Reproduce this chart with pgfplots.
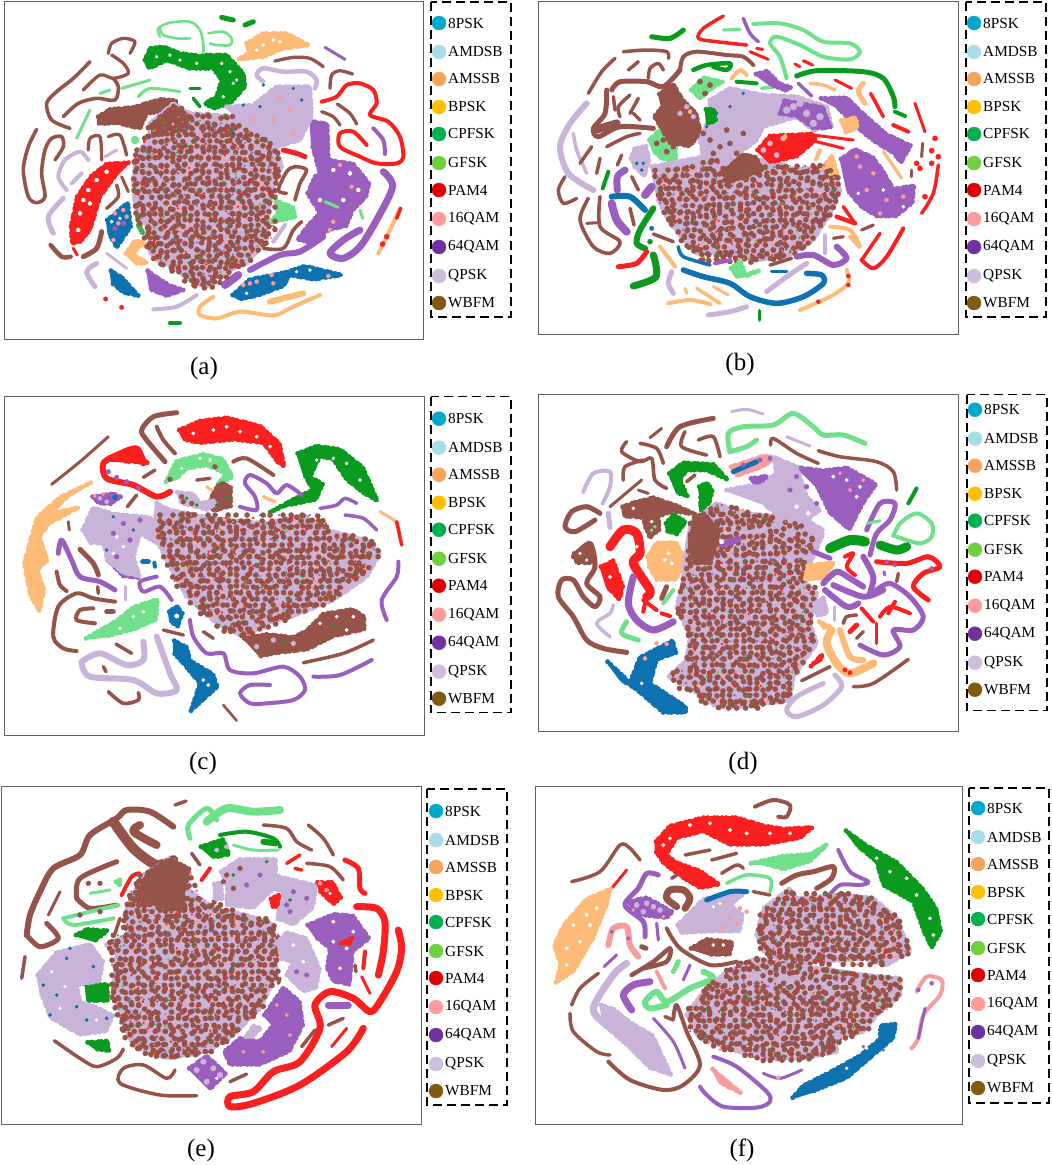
\documentclass[border=0pt]{standalone}
\usepackage{fontspec}
\setmainfont{Liberation Serif}
\usepackage{pgfplots}
\pgfplotsset{compat=1.18}

\definecolor{bl}{HTML}{0F72B0}
\definecolor{gr}{HTML}{0A9B1E}
\definecolor{lg}{HTML}{70E08A}
\definecolor{ora}{HTML}{FDBB77}
\definecolor{rd}{HTML}{FB2020}
\definecolor{pu}{HTML}{9A5FBE}
\definecolor{li}{HTML}{C9B3D8}
\definecolor{bn}{HTML}{95534A}
\definecolor{pk}{HTML}{F79C9C}
\definecolor{k1}{HTML}{00A9CC}\definecolor{k2}{HTML}{A8DCE8}\definecolor{k3}{HTML}{F8A25A}
\definecolor{k4}{HTML}{FFC000}\definecolor{k5}{HTML}{00B050}\definecolor{k6}{HTML}{70D040}
\definecolor{k7}{HTML}{E00000}\definecolor{k8}{HTML}{FF9B9B}\definecolor{k9}{HTML}{7030A0}
\definecolor{k10}{HTML}{CDBFDC}\definecolor{k11}{HTML}{7F5A10}

% axes use the 3x zoom pixel coordinates, y downwards
\pgfplotsset{
  base/.style n args={8}{
    at={(#1pt,-#2pt)}, anchor=north west, scale only axis,
    width=#3pt, height=#4pt,
    xmin=#5, xmax=#6, ymin=#7, ymax=#8, y dir=reverse,
    xtick=\empty, ytick=\empty, clip=false},
  panel/.style={axis line style={draw=black!62, line width=1pt}},
  lgd/.style={axis line style={draw=black, line width=1.3pt, dash pattern=on 9pt off 5pt}}
}
\newcommand{\lnn}[3][3.3]{\addplot[no markers, smooth, color=#2, line width=#1pt, line cap=round, line join=round] coordinates {#3};}
\newcommand{\dotsline}[5][]{\addplot[no markers, color=#2, line width=#3pt, line cap=round, line join=round, dash pattern=#4, #1] coordinates {#5};}
% filled cluster with a lumpy edge of dots along its outline
\newcommand{\blob}[2]{%
  \addplot[draw=#1, fill=#1, line width=3pt, line join=round] coordinates {#2} -- cycle;
  \dotsline{#1}{5}{on .01pt off 4pt on .01pt off 6.5pt on .01pt off 3pt on .01pt off 5pt}{#2}
}
\newcommand{\spk}[3]{\addplot[only marks, color=#1, mark=*, mark size=#2pt, mark options={solid, fill=#1}] coordinates {#3};}
\newcommand{\mix}[2]{%
  \dotsline[yshift=-3pt]{pk}{3.6}{on .01pt off 13pt on .01pt off 22pt on .01pt off 17pt}{#1}
  \dotsline[xshift=3pt]{pk}{3.2}{on .01pt off 25pt on .01pt off 12pt}{#2}
  \dotsline[yshift=3pt]{pu}{2.6}{on .01pt off 19pt on .01pt off 31pt}{#1}
  \dotsline[xshift=-3pt]{pu}{2.4}{on .01pt off 23pt on .01pt off 37pt}{#2}
  \dotsline{ora}{2.6}{on .01pt off 23pt on .01pt off 15pt on .01pt off 33pt}{#1}
  \dotsline[yshift=-3pt]{bn}{5.6}{on .01pt off 9pt on .01pt off 12pt on .01pt off 7pt on .01pt off 14pt on .01pt off 10pt on .01pt off 8pt}{#1}
  \dotsline[yshift=3pt]{bn}{5.6}{on .01pt off 13pt on .01pt off 8pt on .01pt off 11pt on .01pt off 16pt on .01pt off 7pt}{#1}
  \dotsline[xshift=-3pt]{bn}{5.6}{on .01pt off 11pt on .01pt off 7.5pt on .01pt off 15pt on .01pt off 9pt on .01pt off 13pt}{#2}
  \dotsline[xshift=3pt]{bn}{5.6}{on .01pt off 8.5pt on .01pt off 14pt on .01pt off 10pt on .01pt off 6.5pt on .01pt off 17pt}{#2}
  \dotsline{rd}{2.6}{on .01pt off 27pt on .01pt off 39pt}{#1}
  \dotsline[xshift=2pt]{rd}{2.4}{on .01pt off 35pt on .01pt off 23pt}{#2}
  \dotsline[yshift=2pt]{gr!70!lg}{2}{on .01pt off 31pt on .01pt off 43pt}{#1}
  \dotsline{gr!70!lg}{2}{on .01pt off 41pt on .01pt off 27pt}{#2}
  \dotsline[xshift=-1pt]{ora!70!rd}{1.8}{on .01pt off 47pt on .01pt off 29pt}{#2}
}
\newcommand{\lgi}[3]{%
  \addplot[only marks, color=#1, mark=*, mark size=7pt, mark options={solid, fill=#1}] coordinates {(439,#2)};
  \node[anchor=west, inner sep=0pt, font=\fontsize{15.3}{17}\selectfont] at (axis cs:448,#2) {#3};
}
\newcommand{\legendax}[7]{%
  \begin{axis}[base={#1}{#2}{80}{#3}{#4}{#5}{#6}{#7}, lgd]
  \lgi{k1}{23}{8PSK}
  \lgi{k2}{52}{AMDSB}
  \lgi{k3}{79}{AMSSB}
  \lgi{k4}{107}{BPSK}
  \lgi{k5}{134}{CPFSK}
  \lgi{k6}{163}{GFSK}
  \lgi{k7}{190}{PAM4}
  \lgi{k8}{219}{16QAM}
  \lgi{k9}{247}{64QAM}
  \lgi{k10}{276}{QPSK}
  \lgi{k11}{303}{WBFM}
  \end{axis}
}
\newcommand{\capt}[3]{\node[font=\fontsize{25}{27}\selectfont] at (#1pt,-#2pt) {#3};}

\begin{document}
\begin{tikzpicture}
\path[use as bounding box] (0,0) rectangle (1052pt,-1165pt);

% ---------- (a)
\begin{axis}[base={4.3}{1.7}{419}{337.3}{13}{1270}{5}{1017}, panel]
\lnn[2.6]{lg}{(480,110)(475,85)(510,68)(570,65)(600,90)(610,130)(610,165)}
\lnn[2.6]{lg}{(480,85)(490,105)(530,115)(570,115)}
\lnn[2.6]{lg}{(625,100)(670,95)(695,115)(690,135)(650,135)(630,130)}
\lnn[5]{gr}{(665,52)(700,60)}\lnn[5]{gr}{(735,75)(760,65)}
\blob{ora}{(740,130)(790,100)(860,100)(925,135)(850,145)(790,170)(715,178)(745,160)}
\spk{white}{1.6}{(790,135)(820,120)(770,150)(840,125)}
\lnn[3]{pu}{(975,142)(1035,178)}
\lnn{bn}{(825,183)(880,172)(930,175)(970,200)}
\lnn[4.5]{li}{(790,245)(770,225)(790,205)(850,215)(920,215)(950,240)(945,265)}
\lnn{bn}{(990,265)(995,225)(1020,212)(1058,222)}
\lnn[4]{rd}{(965,305)(1010,290)(1040,255)(1080,250)(1120,270)(1130,310)(1110,345)(1165,365)(1200,410)(1210,470)(1190,490)(1130,490)(1080,470)(1020,440)(1020,400)(1060,395)(1100,435)}
\lnn{bn}{(965,335)(1000,350)(1020,375)}\lnn{bn}{(1012,312)(1050,340)(1070,372)}
\lnn[4]{pu}{(1120,385)(1150,420)(1155,462)}
\blob{gr}{(620,165)(680,165)(730,220)(735,260)(690,310)(640,325)(615,310)(650,290)(665,240)(640,205)}
\blob{gr}{(435,180)(450,145)(490,140)(540,160)(620,170)(630,205)(570,205)(500,180)(470,195)(445,205)}
\lnn[3.5]{gr}{(570,265)(600,265)}\lnn[3.5]{gr}{(580,295)(600,320)}
\spk{white}{1.5}{(540,180)(690,215)(700,250)(670,290)(470,170)(630,245)(590,190)(710,240)(665,190)(510,165)}
\lnn{bn}{(325,160)(335,130)(370,115)(405,125)(390,160)}
\lnn{bn}{(335,165)(370,190)(385,220)(340,235)(300,225)(250,270)}
\lnn[3.6]{bn}{(270,185)(220,235)(170,275)(140,310)(155,360)(210,385)}
\lnn[3.6]{bn}{(190,350)(235,310)(290,295)(345,300)(355,260)(340,235)}
\lnn[3.6]{bn}{(110,388)(85,440)(70,510)(85,590)(110,608)(135,590)(125,520)(135,450)(155,415)(185,410)(190,440)(165,480)}
\lnn[3]{lg}{(365,265)(450,240)}\lnn[3]{lg}{(300,280)(330,270)}\lnn[3]{lg}{(415,290)(450,265)(540,275)}\lnn[3]{lg}{(230,415)(270,330)}
\lnn{bn}{(265,450)(270,415)(300,410)(305,480)}\lnn{bn}{(325,410)(360,405)(380,465)}
\lnn[3.2]{li}{(315,470)(350,450)}
\lnn[4]{li}{(200,570)(175,530)(195,480)(240,455)(265,480)}\lnn[4]{li}{(215,550)(245,520)}
\blob{bn}{(295,350)(330,328)(400,322)(480,298)(530,302)(520,330)(440,340)(420,385)(390,378)(350,368)(295,372)}
\spk{lg}{4}{(405,420)}
\blob{rd}{(385,488)(320,492)(272,530)(232,590)(213,680)(217,730)(240,725)(270,690)(300,590)(345,528)}
\spk{white}{2}{(320,515)(265,570)(240,640)(235,690)(270,610)(290,540)(250,600)}
\lnn[3]{bn}{(365,530)(385,575)}\lnn[3.4]{bn}{(320,625)(355,590)(350,555)}
\lnn[5]{li}{(190,595)(145,650)(160,700)}
\lnn[4.5]{bn}{(152,735)(185,770)(212,770)}\lnn[5]{bn}{(250,770)(290,745)(305,695)}\lnn[3]{rd}{(220,745)(232,765)}
\blob{bl}{(322,660)(383,608)(392,680)(350,742)(327,700)}
\spk{pk}{2}{(345,640)(370,630)(355,670)(340,720)(380,650)}\spk{pu}{2.5}{(370,670)(345,685)}\spk{white}{1.6}{(335,665)(360,655)}
\lnn[5]{gr!60!lg}{(415,675)(428,698)}
\blob{ora}{(378,760)(405,722)(442,732)(415,740)(400,765)(442,788)(410,792)}
\lnn[2.8]{li}{(380,805)(320,760)}\lnn[5]{li}{(290,790)(260,815)(285,860)}
\blob{bl}{(333,812)(365,832)(415,887)(370,877)(338,850)}
\blob{pu}{(443,812)(470,832)(510,857)(550,870)(500,887)(452,868)}
\lnn[4]{li}{(460,928)(530,920)(590,885)}
\lnn[4]{ora}{(640,890)(600,920)(600,945)(650,955)(720,935)(800,945)(830,945)(880,920)(960,885)}\lnn[6]{ora}{(810,905)(910,880)}
\lnn[4]{gr}{(510,968)(540,968)}\spk{rd}{2.2}{(317,897)(365,922)}
\blob{bl}{(698,885)(750,838)(830,823)(870,813)(915,798)(1025,825)(940,838)(870,825)(850,858)(770,887)(720,897)}
\spk{pk}{2}{(730,855)(770,845)(820,850)(815,825)(750,850)(985,828)}\spk{white}{1.5}{(740,880)(930,810)(890,815)}
\lnn[8]{pu}{(675,855)(715,825)}
\blob{pu}{(933,363)(982,372)(985,480)(1060,492)(1107,550)(1098,590)(1058,630)(1038,678)(990,688)(930,727)(893,718)(930,670)(960,640)(923,580)(945,530)(960,520)(938,440)}
\spk{white}{2}{(1000,510)(1050,520)(1075,570)(960,600)(1030,600)}\spk{pk}{2}{(1020,495)(1000,665)(1055,560)(990,690)}
\lnn[6]{pu}{(750,810)(840,765)(900,755)(970,710)}
\lnn[7]{pu}{(1150,515)(1178,560)(1130,660)(1080,740)(1030,775)(990,760)(1030,720)(1080,690)}
\lnn[4]{ora}{(1135,760)(1170,690)(1200,625)}\lnn[3.5]{rd}{(1190,655)(1202,625)}\spk{rd}{2.5}{(1160,710)(1148,732)}
\lnn[3.6]{bn}{(860,580)(835,570)(860,515)(885,500)(920,510)(900,550)(885,600)}
\blob{lg}{(828,602)(878,622)(887,650)(813,668)(832,640)}
\lnn[3]{lg}{(975,605)(1015,622)}\lnn[3]{lg}{(1080,630)(1088,655)}
\lnn[3.6]{bn}{(790,745)(850,745)(880,690)(905,665)}\lnn[4]{li}{(820,725)(855,675)}
\blob{li}{(450,370)(520,310)(570,340)(640,345)(700,350)(760,400)(830,440)(845,500)(820,560)(805,640)(800,720)(740,790)(660,820)(620,860)(570,840)(500,790)(450,760)(450,690)(405,620)(400,540)(410,460)(445,420)}
\blob{li}{(680,320)(760,315)(830,260)(930,260)(935,350)(900,420)(830,440)(760,400)}
\spk{bl}{1.5}{(790,255)(730,315)(700,400)(880,265)(780,320)(905,300)}
\spk{pk}{2}{(840,290)(870,330)(820,360)(880,400)(760,360)}
\lnn[5]{rd}{(850,450)(890,460)(915,470)}
\blob{bn}{(455,375)(520,318)(562,345)(558,388)(500,398)(460,408)}
\mix{(480,360)(570,368)(740,400)(445,392)(430,436)(800,428)(835,468)(410,462)(400,506)(840,500)(830,540)(400,546)(405,584)(815,576)(805,612)(405,620)(415,654)(800,648)(800,684)(440,690)(450,722)(800,716)(760,756)(455,762)(500,796)(720,790)(650,828)(550,834)(600,856)(640,852)}{(420,450)(420,640)(456,760)(456,400)(492,360)(492,790)(528,815)(528,320)(564,345)(564,840)(600,860)(600,345)(636,345)(636,860)(672,830)(672,345)(708,355)(708,800)(744,780)(744,395)(780,420)(780,740)(816,700)(816,440)}
\end{axis}
\legendax{431}{2}{315}{431}{511}{2}{317}
\capt{204}{368}{(a)}

% ---------- (b)
\begin{axis}[base={538.7}{1.7}{419.6}{332.3}{26}{1285}{5}{1002}, panel]
\lnn[5]{gr}{(365,110)(420,115)(460,90)}
\lnn[3.5]{rd}{(580,48)(520,85)(505,115)(560,125)(650,135)}
\lnn[3]{lg}{(580,90)(630,88)}\lnn[3.5]{pu}{(640,55)(660,100)(685,125)}
\lnn[4]{lg}{(670,72)(750,70)(820,90)(880,125)(960,130)(990,155)(960,178)(880,170)(810,135)(740,110)(720,130)(750,170)(770,235)}
\lnn[3]{rd}{(660,155)(715,178)}\lnn[3]{rd}{(680,145)(698,148)}\lnn[3]{rd}{(795,192)(810,200)}\lnn[3]{rd}{(820,182)(848,195)}
\lnn[5]{gr}{(800,228)(860,212)(1000,215)(1060,235)(1090,290)(1095,320)}\lnn[4]{gr}{(1095,335)(1125,348)}
\lnn[3.5]{bn}{(175,280)(215,215)(255,175)}\lnn[3.5]{bn}{(280,155)(350,150)(410,155)(415,175)}\lnn[3.5]{bn}{(295,210)(325,185)}\lnn[3.5]{bn}{(355,235)(360,205)(385,190)(400,210)}
\lnn[4]{bn}{(450,210)(460,170)(500,155)(590,165)(640,170)(670,195)}
\lnn[5]{bn}{(245,270)(270,245)(350,245)(400,260)(450,210)}
\lnn[5]{bn}{(230,270)(225,340)(190,385)(205,410)(270,380)(370,385)}
\lnn[8]{bn}{(195,390)(260,370)}
\lnn[3.5]{bn}{(250,290)(255,330)}\lnn[3.5]{bn}{(270,350)(265,320)(300,285)}\lnn[3.5]{bn}{(300,340)(325,295)}\lnn[3.5]{bn}{(330,360)(310,340)}
\blob{lg}{(358,420)(385,393)(437,420)(437,478)(400,478)(372,455)}
\blob{lg}{(483,270)(520,233)(577,245)(540,268)(510,297)}
\spk{bn}{2.6}{(400,420)(430,440)(380,430)(510,245)(540,255)(525,280)(410,455)}
\blob{bn}{(388,282)(430,253)(458,300)(498,340)(512,400)(478,438)(420,428)(392,380)(373,350)(397,320)}
\spk{li}{2.4}{(470,320)(490,350)(450,340)}\spk{ora}{2}{(480,335)}
\lnn[4.5]{gr}{(490,210)(530,195)(600,190)(590,210)(550,200)}
\lnn[4]{ora}{(605,235)(630,210)(650,225)}\lnn[4]{gr}{(620,245)(680,250)}\lnn[3.5]{lg}{(695,265)(735,260)}
\blob{pu}{(678,222)(710,213)(750,252)(782,262)(770,272)(720,253)}
\lnn[3.5]{pu}{(805,250)(845,288)}\lnn[3.5]{ora}{(840,250)(880,255)(915,270)}\lnn[3]{rd}{(915,240)(965,265)}\lnn[5]{ora}{(1000,250)(985,275)(1005,310)}
\lnn[3.5]{rd}{(1022,280)(1060,350)}\lnn[3]{rd}{(1155,310)(1185,395)}
\blob{li}{(540,300)(600,265)(700,285)(800,290)(890,320)(905,380)(850,390)(800,350)(700,380)(680,420)(600,480)(520,470)(510,420)(530,370)}
\blob{pu}{(763,302)(878,322)(902,383)(850,383)(800,348)(748,340)}
\spk{li}{3.5}{(790,320)(830,340)(870,350)(770,330)(850,370)(810,310)}
\spk{bl}{1.5}{(600,320)(560,340)(640,280)(530,380)}
\blob{gr}{(528,328)(552,328)(557,362)(533,372)}
\spk{bn}{2.6}{(540,420)(570,440)(600,430)(550,460)(620,460)(640,400)(590,390)(520,400)}
\blob{pu}{(873,295)(950,293)(998,340)(1068,402)(1142,437)(1113,487)(1090,458)(1040,428)(1000,398)(920,320)}
\blob{ora}{(933,362)(977,353)(982,383)(947,397)}
\blob{pu}{(933,477)(975,448)(1028,472)(1058,512)(1090,567)(1152,557)(1147,608)(1098,648)(1040,648)(992,618)(953,570)}
\spk{pk}{2}{(990,500)(1030,520)(1010,570)(1070,600)(1120,590)(980,470)(1050,640)}\spk{white}{1.6}{(1060,570)(985,580)(1120,620)}
\lnn[3.2]{ora}{(1060,455)(1085,490)(1115,535)}
\blob{li}{(365,500)(520,470)(610,480)(720,480)(800,510)(880,500)(905,470)(930,570)(900,640)(850,720)(770,770)(680,780)(590,760)(500,760)(420,670)(385,600)}
\blob{ora}{(883,500)(905,468)(922,520)(900,537)}
\blob{rd}{(683,450)(720,408)(847,402)(857,420)(800,468)(720,487)}
\spk{li}{2.6}{(720,430)(760,415)(740,465)(700,450)}\spk{ora}{2.2}{(765,410)}
\mix{(375,520)(890,505)(915,540)(385,556)(385,592)(925,576)(910,612)(410,628)(420,664)(885,648)(860,684)(440,700)(480,736)(835,720)(790,756)(500,772)(680,778)}{(400,540)(400,620)(440,680)(440,510)(480,500)(480,740)(520,765)(520,490)(560,480)(560,770)(600,755)(600,520)(640,530)(640,775)(680,780)(680,510)(720,500)(720,778)(760,770)(760,500)(800,515)(800,750)(840,720)(840,505)(880,510)(880,670)(915,590)(915,530)}
\blob{bn}{(583,512)(640,463)(678,472)(697,510)(620,538)(592,547)}
\lnn[3]{rd}{(850,405)(970,420)}\lnn[3]{rd}{(860,425)(940,445)}\lnn[4]{ora}{(858,478)(870,450)}
\lnn[6]{li}{(170,310)(120,370)(90,440)(115,520)(190,570)}\lnn[3.5]{li}{(130,400)(140,450)(170,520)}
\lnn[3.5]{bn}{(105,530)(85,570)(100,610)(140,595)}\lnn[3.5]{bn}{(150,490)(185,440)}\lnn[3.5]{bn}{(200,520)(210,475)}\lnn[3.5]{bn}{(262,495)(275,465)}\lnn[3.5]{bn}{(230,440)(290,410)(330,400)}
\lnn[4]{gr}{(218,565)(235,515)}
\lnn[7]{pu}{(262,570)(262,530)(285,510)}\lnn[3.5]{bn}{(305,530)(325,570)}
\blob{li}{(303,475)(312,447)(348,438)(357,480)(343,528)(312,498)}\spk{bl}{1.6}{(340,490)(335,510)(320,490)}
\lnn[6]{bl}{(245,590)(300,590)(345,630)}\lnn[8]{pu}{(245,610)(260,660)(290,695)}\lnn[3.5]{bn}{(300,625)(312,675)}
\lnn[3.6]{bn}{(175,595)(150,660)(190,740)(240,760)(270,725)(210,680)(210,590)}\lnn[3]{bn}{(170,670)(205,668)}
\lnn[8]{pu}{(345,585)(365,560)}
\lnn[6]{gr}{(370,625)(330,690)(320,730)(345,745)}\spk{bl}{2.2}{(365,685)}\spk{gr}{2.5}{(360,725)}
\lnn[3.5]{bn}{(370,702)(430,725)}
\lnn[5]{rd}{(265,800)(320,790)(350,755)}\lnn[7]{gr}{(370,765)(378,830)(310,858)}
\lnn[4]{ora}{(390,740)(435,800)}\lnn[5]{li}{(425,815)(415,850)(430,880)}
\lnn[3.5]{bl}{(445,740)(460,770)(540,795)}\lnn[4]{pu}{(555,790)(600,780)}
\lnn[5.5]{bl}{(460,810)(520,830)(600,850)(660,890)(740,910)(820,890)(880,850)(875,825)(830,820)}
\blob{lg}{(603,805)(630,783)(648,828)(687,812)(620,832)}
\lnn[3.5]{bn}{(720,795)(785,775)}
\lnn[6]{pu}{(800,770)(850,765)(910,795)(950,775)(920,740)}\lnn[3.5]{li}{(885,705)(885,760)}
\lnn[4]{ora}{(900,680)(960,690)(990,740)(960,710)}\lnn[3.2]{bn}{(910,715)(940,710)}\lnn[3.2]{bn}{(995,690)(1030,675)}
\lnn[4.5]{rd}{(920,650)(975,670)}\lnn[3.5]{rd}{(940,620)(975,670)}
\lnn[3.5]{rd}{(995,780)(1050,700)}\lnn[4]{rd}{(995,780)(1030,805)(1070,770)(1120,685)}
\lnn[3.5]{rd}{(1175,640)(1210,580)(1225,495)}\spk{rd}{2.6}{(1160,490)(1170,505)(1205,490)(1225,470)(1215,415)(1205,452)(1185,590)}
\lnn[4]{ora}{(810,930)(900,890)(955,850)(950,810)}\spk{rd}{2}{(865,905)(955,855)(955,828)}
\lnn[5]{li}{(535,945)(600,935)(650,920)}
\lnn[4]{ora}{(415,910)(480,900)(540,912)}\lnn[3.5]{ora}{(500,865)(570,910)}\lnn[3]{ora}{(465,865)(470,880)}\lnn[3]{ora}{(550,860)(595,885)}
\lnn[5]{li}{(710,875)(770,830)(830,790)}\lnn[3.5]{bl}{(725,815)(770,815)}\lnn[3.5]{gr}{(688,932)(688,960)}
\lnn[4]{rd}{(1090,375)(1135,395)}\lnn[3]{bn}{(1178,430)(1175,470)}\lnn[3]{bn}{(1145,510)(1145,530)}
\end{axis}
\legendax{966}{2}{315}{431}{511}{2}{317}
\capt{740}{364}{(b)}

% ---------- (c)
\begin{axis}[base={4.3}{396.7}{420.4}{338.3}{13}{1274}{20}{1035}, panel]
\lnn[5]{bn}{(530,68)(460,80)(425,120)(440,150)(495,215)}\lnn[4]{bn}{(470,110)(490,150)(525,190)}
\blob{rd}{(538,120)(600,93)(680,83)(780,108)(838,160)(852,228)(835,218)(790,158)(700,148)(600,158)(552,148)}
\spk{white}{1.7}{(580,130)(640,120)(720,125)(770,140)(810,170)(680,110)}
\blob{gr}{(893,190)(950,168)(1020,178)(1088,232)(1132,332)(1090,308)(1040,268)(1000,208)(960,198)(930,260)(968,282)(948,328)(850,348)(808,368)(880,328)(938,300)(912,250)}
\spk{white}{1.6}{(1040,220)(1000,205)(1080,270)(950,210)}
\lnn[3]{bn}{(155,283)(240,215)(325,140)}
\lnn[6]{rd}{(430,220)(410,175)(350,195)(310,220)(320,265)(400,285)(470,320)(510,305)}
\blob{rd}{(323,210)(408,178)(442,218)(370,213)}\spk{pu}{2.3}{(350,262)(380,275)(415,295)(325,245)}
\blob{lg}{(498,275)(530,213)(610,193)(668,207)(697,260)(650,288)(678,250)(620,225)(560,235)(530,265)}
\spk{white}{1.7}{(545,235)(600,205)(630,210)}\spk{bn}{2.4}{(510,268)(645,230)}
\blob{bn}{(623,345)(650,292)(665,278)(692,292)(692,348)(640,362)}
\blob{li}{(533,307)(580,312)(600,340)(640,332)(648,340)(620,358)(542,338)}
\spk{gr}{1.6}{(560,325)(590,345)(650,345)(680,320)}\spk{bn}{2.4}{(545,320)(575,340)(550,335)}
\lnn[4]{bn}{(700,215)(740,205)(820,255)}\lnn[3.5]{bn}{(430,262)(465,240)}\lnn[3.5]{bn}{(382,350)(410,315)}\lnn[3.5]{bn}{(590,270)(630,265)}
\lnn[3.5]{ora}{(790,320)(825,335)}\lnn[3]{ora}{(620,290)(635,300)}
\lnn[4]{pu}{(720,350)(770,360)(765,320)(735,280)(750,255)(800,280)(830,310)(860,285)(905,315)}
\blob{pu}{(278,320)(340,311)(362,320)(330,342)(292,338)}\spk{bl}{2.5}{(345,322)}\spk{li}{2}{(300,325)(320,335)}\spk{pk}{1.6}{(285,318)(310,312)}
\lnn[3.5]{pu}{(960,355)(1010,345)(1035,325)(1070,340)}\lnn[3.5]{pu}{(1035,375)(1090,385)(1130,420)}
\lnn[3]{ora}{(1140,365)(1190,395)}\lnn[3.5]{rd}{(1190,395)(1205,465)}
\lnn[4]{pu}{(1195,515)(1190,560)(1145,630)(1160,690)}
\blob{ora}{(272,278)(180,322)(112,382)(92,450)(73,520)(92,618)(118,662)(132,600)(112,540)(142,510)(118,440)(147,400)(237,352)(152,370)(200,322)}
\lnn[3]{bn}{(205,395)(208,420)}
\blob{pu}{(323,510)(370,558)(417,563)(400,540)(350,520)}
\blob{li}{(248,420)(280,353)(340,372)(450,382)(478,420)(488,468)(420,430)(400,500)(418,558)(370,548)(322,510)(312,460)(270,458)}
\spk{white}{1.7}{(340,490)(370,470)(350,440)}\spk{bl}{1.5}{(320,480)(340,380)(400,420)}
\spk{pu}{2.4}{(370,400)(340,430)(420,390)(390,450)(350,500)}
\blob{li}{(470,340)(510,360)(640,385)(800,400)(910,375)(980,420)(1100,450)(1140,490)(1100,560)(1000,630)(900,670)(800,700)(730,740)(650,700)(560,620)(510,530)(480,470)(460,420)}
\mix{(480,384)(950,384)(990,420)(470,420)(490,456)(1110,456)(1135,492)(505,492)(525,528)(1100,528)(1060,564)(545,564)(570,600)(1020,600)(970,636)(600,636)(640,672)(880,672)(790,708)(690,708)(740,735)}{(500,400)(500,500)(540,590)(540,370)(580,375)(580,640)(620,680)(620,385)(660,390)(660,710)(700,735)(700,395)(740,395)(740,735)(780,710)(780,400)(820,400)(820,690)(860,675)(860,390)(900,375)(900,665)(940,650)(940,385)(980,425)(980,630)(1020,605)(1020,430)(1060,440)(1060,570)(1100,530)(1100,455)(1135,480)}
\blob{bn}{(733,745)(800,733)(880,742)(920,722)(970,672)(1058,658)(1092,680)(1092,718)(1000,738)(920,778)(830,788)(782,798)}
\spk{white}{1.7}{(1010,680)(1060,680)(1040,720)(960,700)}\spk{li}{2.4}{(820,750)(770,770)(880,760)}\spk{gr}{1.5}{(850,750)(1000,710)}
\lnn[3.5]{bn}{(910,818)(1030,790)(1120,750)}\lnn[4]{pu}{(940,860)(1020,855)(1115,810)}
\lnn[5]{pu}{(175,490)(185,450)(215,510)(240,560)(300,575)(345,600)}
\lnn[5]{bn}{(240,478)(280,520)(295,555)}\lnn[4]{bn}{(170,545)(180,585)(200,603)}\lnn[3.5]{bn}{(293,590)(295,610)}
\lnn[5]{bl}{(428,515)(445,515)}\lnn[4]{bl}{(463,518)(465,530)}
\lnn[4]{pu}{(470,560)(420,575)(430,605)(480,590)(515,630)}
\lnn[3]{li}{(376,590)(376,630)}
\lnn[4]{bn}{(345,635)(280,625)(230,610)(175,650)(160,740)(190,775)(230,783)}
\lnn[4]{bn}{(280,655)(240,660)(230,690)(285,700)}\lnn[5]{bn}{(320,665)(340,665)}
\blob{lg}{(258,745)(350,692)(400,652)(472,628)(468,688)(400,718)(320,738)}\spk{white}{1.7}{(400,680)(430,665)(360,715)}
\blob{bl}{(508,665)(530,648)(547,670)(533,708)(512,695)}\spk{white}{2.2}{(530,678)}
\lnn[4]{pu}{(570,690)(580,740)(620,790)(670,790)(690,840)(760,850)(850,830)(900,860)(915,900)(880,930)(800,940)(750,940)(720,910)(750,885)(810,885)}
\lnn[3.5]{bn}{(490,720)(550,735)}\lnn[3.5]{bn}{(610,725)(640,745)}\lnn[3.5]{bn}{(348,762)(395,790)}
\lnn[6]{li}{(245,815)(300,790)(380,825)(430,810)(430,755)}\lnn[6]{li}{(245,820)(270,860)(400,870)(470,910)(530,900)(510,850)(470,740)}
\lnn[3.6]{bn}{(325,905)(370,940)(415,930)(415,908)}\lnn[3.5]{bn}{(310,830)(318,845)}
\blob{bl}{(523,752)(560,772)(570,812)(638,852)(652,890)(610,928)(573,962)(600,880)(550,820)(523,790)}\spk{white}{1.8}{(610,870)(625,885)}
\lnn[2.6]{bn}{(670,945)(710,992)}
\end{axis}
\legendax{431}{396.7}{316}{431}{511}{1}{317}
\capt{203}{763}{(c)}

% ---------- (d)
\begin{axis}[base={538.3}{394.7}{420}{337}{25}{1285}{14}{1025}, panel]
\lnn[3]{li}{(605,65)(650,58)(700,72)}
\lnn[3]{bn}{(360,143)(395,115)}\lnn[5]{bn}{(410,170)(450,110)(550,85)}\lnn[3.6]{bn}{(465,125)(455,170)(530,195)}\lnn[3.6]{bn}{(505,150)(550,140)(570,200)}
\lnn[3.6]{bn}{(290,155)(275,185)(330,215)(365,205)(375,270)(410,295)}\lnn[3.6]{bn}{(330,160)(380,175)(400,220)}\lnn[3.6]{bn}{(280,270)(285,230)(340,210)}
\lnn[3]{bn}{(240,350)(335,270)}\lnn[3]{bn}{(325,300)(355,310)}
\lnn[4]{li}{(160,305)(190,250)(240,245)(240,290)(218,340)}\lnn[5]{li}{(235,370)(240,412)}
\lnn[5]{lg}{(600,185)(595,130)(640,110)(730,105)(790,70)(850,110)(880,135)(940,135)(1005,160)}\lnn[5]{lg}{(600,185)(650,170)(680,150)}
\lnn[3]{li}{(770,140)(840,168)}
\lnn[3.5]{bn}{(722,165)(730,145)(800,190)(865,220)}\lnn[3.5]{bn}{(865,182)(930,200)(1040,215)(1090,245)(1100,300)}
\blob{gr}{(418,250)(460,218)(550,223)(592,268)(530,240)(470,240)(450,270)(472,318)(442,308)}
\blob{gr}{(508,290)(530,278)(547,300)(538,338)(512,362)(512,320)}
\lnn[3.5]{bn}{(470,275)(495,255)}
\blob{pk}{(603,230)(700,198)(737,202)(700,228)(620,257)}
\lnn[5]{bl}{(610,245)(680,215)}\spk{pu}{2.2}{(690,210)(640,225)(720,205)}
\blob{pu}{(803,232)(880,242)(950,233)(1038,282)(998,340)(958,418)(900,368)(862,290)}
\spk{white}{1.8}{(950,270)(990,290)(980,320)(910,260)}\spk{pk}{1.8}{(930,250)(1000,270)(960,300)}
\blob{li}{(590,300)(700,280)(740,250)(730,200)(800,230)(830,320)(870,360)(830,390)(880,420)(830,450)(700,340)}
\spk{pu}{2.3}{(830,290)(860,340)(800,260)(780,300)}\spk{white}{2}{(800,350)(835,370)}
\blob{pu}{(663,265)(712,258)(690,278)(667,275)}
\lnn[5]{pu}{(1010,420)(1050,340)(1095,340)(1080,390)(1040,430)(1020,495)}\lnn[3]{lg}{(1012,400)(1050,392)}
\lnn[4]{gr}{(1135,340)(1160,295)}
\lnn[4]{lg}{(1090,438)(1110,400)(1160,370)(1205,400)(1205,440)(1170,460)(1100,440)}
\blob{bn}{(278,350)(310,338)(370,323)(440,347)(497,373)(430,363)(385,378)(388,418)(360,442)(342,400)(345,383)(282,378)}
\spk{lg}{1.6}{(365,420)(375,410)}\spk{white}{1.6}{(310,355)(365,395)}
\blob{gr}{(408,400)(430,373)(467,395)(440,432)(412,423)}
\lnn[5]{bn}{(210,370)(170,350)(125,365)(105,410)(135,425)(195,390)}
\lnn[5]{bn}{(130,500)(180,460)(195,530)(170,580)(210,620)(195,650)(160,620)(130,570)(95,570)(85,620)(130,680)(170,750)(220,775)(290,787)}
\blob{bn}{(133,490)(178,468)(188,518)(138,518)}\spk{white}{1.4}{(150,490)(170,510)}
\lnn[9]{rd}{(240,470)(280,420)(320,430)(330,490)(310,520)(360,600)(350,620)}
\blob{rd}{(213,530)(250,512)(278,590)(268,628)(232,590)}\spk{white}{1.8}{(240,560)(300,450)(265,470)(320,470)}
\blob{ora}{(353,500)(380,458)(438,458)(467,510)(438,568)(380,568)(358,530)}\spk{white}{1.8}{(415,490)(405,510)(425,520)}
\lnn[7]{pu}{(310,560)(295,640)(320,690)(370,720)(430,695)}
\lnn[3.6]{li}{(250,645)(240,670)(200,700)(240,740)}\lnn[5]{lg}{(290,695)(275,730)(325,750)}
\lnn[4]{rd}{(340,630)(380,660)}\lnn[4]{rd}{(345,640)(340,665)}\lnn[4]{rd}{(395,670)(420,678)}
\lnn[5]{bn}{(395,625)(410,590)}\lnn[4]{lg}{(400,640)(430,600)}
\blob{bl}{(233,815)(300,877)(330,802)(428,752)(438,788)(380,808)(360,880)(467,950)(467,967)(400,967)(320,898)(272,868)}\spk{pk}{2}{(380,760)(410,762)(345,805)}\spk{white}{1.6}{(350,780)(335,880)}
\blob{li}{(480,400)(560,340)(650,370)(750,380)(880,430)(850,500)(820,570)(860,610)(840,700)(860,760)(790,860)(780,930)(640,950)(560,950)(490,900)(415,860)(470,810)(480,740)(440,650)(460,570)(465,500)}
\mix{(510,385)(620,380)(720,395)(490,420)(480,456)(850,440)(840,476)(475,492)(470,528)(825,520)(815,556)(465,564)(450,600)(855,600)(855,636)(445,636)(445,672)(840,672)(845,708)(470,708)(480,744)(855,744)(830,780)(480,780)(470,816)(800,816)(790,852)(425,852)(450,888)(785,888)(760,924)(510,924)(570,945)(700,945)}{(490,400)(490,900)(530,925)(530,370)(570,345)(570,945)(610,945)(610,350)(650,370)(650,950)(690,945)(690,375)(730,385)(730,940)(770,925)(770,395)(810,410)(810,850)}
\blob{bn}{(493,382)(530,378)(567,430)(540,518)(492,518)(478,460)}
\spk{white}{2.2}{(575,455)}\lnn[7]{pu}{(578,462)(625,447)}
\lnn[10]{gr}{(900,475)(960,450)(1005,455)}\lnn[9]{gr}{(1050,465)(1100,480)(1130,470)}
\lnn[5]{pu}{(850,485)(900,505)}\blob{ora}{(833,527)(912,517)(880,563)(823,568)}
\lnn[6]{pu}{(880,580)(920,545)(960,565)(1000,590)}\lnn[6]{pu}{(910,585)(1000,620)(1060,600)}\lnn[6]{pu}{(885,600)(950,650)(985,640)}\lnn[6]{pu}{(1000,500)(1030,560)(1020,610)}
\blob{li}{(853,640)(880,623)(892,668)(862,678)}\lnn[3]{li}{(915,650)(915,690)}\lnn[3]{pu}{(1062,545)(1064,555)}
\lnn[5]{rd}{(1040,515)(1130,520)(1195,500)(1230,530)(1180,550)(1150,590)(1195,630)}\spk{pu}{2}{(1095,525)(1070,515)(1205,535)}
\lnn[4]{rd}{(945,500)(970,490)(950,530)(975,555)}
\lnn[5]{pu}{(1040,600)(1080,580)(1140,620)(1180,680)(1150,720)(1090,720)(1110,770)(1060,795)(990,765)}
\lnn[4]{rd}{(1050,680)(1080,650)(1140,670)}\lnn[4]{rd}{(1095,635)(1075,670)}
\lnn[4]{rd}{(995,655)(1030,695)}\lnn[3.5]{rd}{(1040,700)(1040,760)}\lnn[5]{rd}{(960,725)(980,705)}
\lnn[3.5]{bn}{(940,700)(950,680)(980,675)}\lnn[3.5]{bn}{(980,745)(1000,725)}\lnn[3.5]{bn}{(1105,550)(1100,575)}
\blob{ora}{(868,695)(902,710)(880,713)}
\lnn[8]{ora}{(905,720)(890,760)(920,820)(960,850)(1030,820)}\lnn[6]{ora}{(930,720)(960,800)(1000,810)}\spk{rd}{2.2}{(945,840)(960,848)}
\blob{rd}{(843,828)(877,793)(873,810)}
\lnn[3.5]{bn}{(815,872)(900,830)}\lnn[3.5]{bn}{(970,890)(1030,880)(1135,808)}
\lnn[5]{li}{(915,855)(935,890)(880,945)(800,980)(770,960)(800,920)(880,880)}
\end{axis}
\legendax{967}{394.7}{316}{431}{511}{8}{324}
\capt{743}{763}{(d)}

% ---------- (e)
\begin{axis}[base={1.7}{786}{419.6}{338}{5}{1264}{33}{1047}, panel]
\lnn[6]{bn}{(80,480)(90,420)(120,350)(160,280)(240,240)(270,180)(350,130)(380,105)(450,110)(520,155)}
\lnn[10]{bn}{(340,140)(400,220)(470,270)(520,255)}\lnn[8]{bn}{(420,150)(400,170)(470,210)}
\lnn[5]{bn}{(80,480)(120,515)(175,490)(140,445)}\lnn[3]{bn}{(145,420)(180,350)}
\lnn[5]{bn}{(230,370)(240,310)(350,260)}\lnn[5]{bn}{(230,370)(270,400)(350,390)}
\lnn[4]{lg}{(190,430)(270,410)(355,390)}\lnn[4]{lg}{(190,430)(220,450)(340,430)}\lnn[3]{lg}{(270,355)(330,345)}
\blob{lg}{(348,320)(362,313)(358,332)}\spk{bn}{2.4}{(240,420)(300,410)(265,325)(300,325)}
\blob{gr}{(228,480)(260,463)(322,467)(285,497)}
\lnn[3.5]{bn}{(345,475)(360,430)}\lnn[3.5]{bn}{(65,610)(75,545)}
\lnn[4]{rd}{(365,360)(395,305)(418,295)}
\blob{gr}{(258,628)(322,628)(322,677)(263,677)}\blob{gr}{(263,802)(322,798)(327,827)(290,822)}
\blob{li}{(113,600)(170,533)(270,508)(308,560)(298,618)(230,630)(240,680)(300,702)(338,722)(318,768)(240,778)(152,728)(122,650)}
\spk{bl}{1.6}{(130,630)(200,550)(280,575)(230,695)(260,735)(320,730)(170,660)(210,520)(150,720)}\spk{white}{1.5}{(155,590)(195,635)(290,735)(180,700)}
\blob{li}{(320,510)(380,480)(380,400)(430,300)(510,250)(570,290)(560,340)(640,400)(740,420)(820,450)(830,600)(780,700)(700,780)(620,830)(500,850)(400,810)(370,750)(340,650)(350,530)}
\mix{(420,310)(560,290)(560,330)(400,345)(385,380)(620,380)(700,415)(380,415)(370,450)(800,440)(825,480)(340,490)(325,520)(830,520)(830,560)(345,560)(350,600)(830,600)(805,640)(340,640)(345,680)(785,680)(750,720)(365,720)(370,760)(710,760)(660,800)(395,800)(450,835)(600,830)}{(345,500)(345,670)(385,790)(385,400)(425,310)(425,815)(465,840)(465,275)(505,255)(505,845)(545,845)(545,270)(585,350)(585,835)(625,830)(625,390)(665,405)(665,805)(705,770)(705,420)(745,425)(745,730)(785,690)(785,435)(825,460)(825,600)}
\blob{bn}{(443,292)(510,253)(567,280)(548,360)(557,408)(500,398)(440,378)(403,378)}
\blob{li}{(663,290)(720,253)(827,253)(827,302)(948,332)(938,398)(880,448)(832,430)(850,350)(820,340)(760,398)(680,388)(682,340)}
\spk{pu}{2.3}{(880,350)(920,370)(740,330)(780,300)(870,410)(860,390)}\spk{gr}{1.6}{(870,375)(800,260)(700,300)}\spk{bn}{2.4}{(720,280)(680,300)(700,340)(670,320)}
\blob{li}{(643,327)(662,322)(667,372)(643,372)}
\blob{rd}{(953,322)(998,322)(1022,368)(1000,387)(962,350)}\spk{pk}{2}{(960,325)(980,345)}\spk{white}{1.5}{(990,355)}
\blob{rd}{(813,372)(837,358)(832,393)(817,397)}
\lnn[4]{gr}{(660,180)(740,170)(820,190)(840,215)}\blob{gr}{(603,215)(670,193)(687,238)(640,247)}\lnn[6]{gr}{(790,200)(825,205)}
\spk{li}{2.2}{(650,225)(680,215)}
\lnn[8]{lg}{(620,140)(680,100)(760,110)(840,105)}\lnn[5]{lg}{(570,190)(565,150)(620,100)(650,135)}
\lnn[3]{lg}{(700,210)(760,225)(835,225)}
\lnn[3.5]{bn}{(525,90)(558,78)}\lnn[3.5]{bn}{(575,235)(600,270)}\lnn[3.5]{bn}{(790,150)(860,160)(890,200)(935,225)}\lnn[3.5]{bn}{(925,150)(970,190)(1000,240)}\lnn[3.5]{bn}{(920,265)(990,275)(1030,315)}
\lnn[3.5]{rd}{(860,265)(900,240)}\lnn[3.5]{rd}{(885,280)(905,285)}\lnn[5]{rd}{(1035,255)(1075,280)(1080,340)(1095,355)}\lnn[4]{rd}{(605,315)(630,280)}
\blob{pu}{(923,450)(1000,418)(1058,422)(1107,490)(1058,528)(1048,628)(1000,618)(982,580)(990,520)(950,488)}
\spk{white}{1.8}{(1000,500)(1060,470)(1040,520)(1020,580)(1000,440)}\blob{rd}{(1023,505)(1057,488)(1048,508)}
\blob{li}{(833,500)(860,473)(918,490)(958,580)(948,638)(910,648)(860,600)(880,560)(842,550)}\spk{white}{1.8}{(880,510)(910,560)}\spk{pu}{2.2}{(920,600)(890,590)}
\lnn[7]{rd}{(1070,395)(1130,400)(1155,440)(1150,530)(1135,600)}\lnn[4]{rd}{(1095,530)(1090,580)}
\lnn[7]{rd}{(1195,465)(1205,520)(1190,590)(1140,680)(1110,710)(1060,670)(990,650)(945,690)(960,760)(900,860)(820,890)(760,950)(690,965)(690,995)(760,985)(900,930)(1040,830)(1090,760)}
\lnn[3]{rd}{(1085,605)(1110,655)}\lnn[3]{rd}{(995,815)(1040,760)}
\lnn[3.5]{bn}{(1065,570)(1068,590)}\lnn[3.5]{bn}{(840,610)(835,625)}\lnn[3.5]{bn}{(985,750)(1030,730)}\lnn[3.5]{bn}{(905,815)(945,765)}
\blob{pu}{(793,720)(850,638)(898,680)(908,750)(868,828)(780,868)(690,868)(673,830)(720,790)(780,800)(820,750)}\spk{pk}{1.8}{(830,690)(860,720)(790,830)(730,830)(870,780)}
\blob{li}{(738,785)(760,753)(782,760)(755,787)}
\blob{pu}{(568,880)(620,843)(677,895)(630,942)}\spk{li}{2.8}{(590,885)(640,880)(620,920)(660,900)(610,860)}\spk{white}{1.5}{(650,910)}
\lnn[7]{pu}{(985,690)(1045,690)}
\lnn[3.5]{bn}{(163,797)(240,850)(290,875)(350,850)(370,822)}
\lnn[3.5]{bn}{(525,885)(500,910)(430,870)(370,880)(360,925)(480,960)(590,962)}\lnn[3.5]{bn}{(690,920)(740,897)}
\end{axis}
\legendax{427}{789}{316}{430}{510}{1}{317}
\capt{201}{1150}{(e)}

% ---------- (f)
\begin{axis}[base={535}{786}{427}{338.3}{15}{1296}{33}{1048}, panel]
\lnn[4]{bn}{(675,95)(730,75)(780,90)(770,125)(745,125)}
\blob{rd}{(378,200)(420,153)(520,128)(620,128)(700,152)(760,162)(847,157)(810,188)(700,208)(600,208)(520,168)(440,188)(408,240)(440,263)(510,288)(567,328)(510,338)(460,308)(402,265)(378,230)}
\spk{white}{1.8}{(420,190)(400,210)(480,150)(540,145)(600,165)(650,175)(720,175)(780,175)}
\blob{gr}{(948,167)(1010,212)(1100,262)(1178,342)(1218,400)(1232,470)(1205,517)(1182,470)(1150,380)(1060,330)(1040,260)(980,210)}
\spk{white}{1.7}{(1040,250)(1080,290)(1130,310)(1200,430)(1210,480)(1160,360)}
\blob{lg}{(663,265)(760,243)(840,238)(892,208)(840,258)(760,282)(700,265)}
\lnn[3.5]{bn}{(125,320)(210,290)(270,210)(300,220)(330,255)}\lnn[3]{rd}{(245,340)(290,285)}
\blob{ora}{(242,342)(170,372)(102,450)(73,510)(92,570)(78,622)(130,588)(188,490)(233,380)}
\spk{white}{1.8}{(130,450)(170,420)(110,520)(150,500)(180,450)(110,570)(200,400)}
\lnn[4]{pu}{(925,225)(960,290)(1015,320)(990,330)(930,330)(890,370)}
\lnn[5]{bn}{(755,325)(800,300)(850,290)(910,275)(905,310)(860,340)}
\lnn[3.5]{bn}{(465,240)(540,225)}\lnn[3.5]{bn}{(545,255)(620,235)}\lnn[3.5]{bn}{(575,295)(620,270)(640,280)}\lnn[3.5]{bn}{(425,310)(440,300)}
\lnn[3.5]{lg}{(590,325)(650,300)(720,310)(720,350)}\lnn[3.5]{bn}{(670,350)(720,360)}
\lnn[5]{pu}{(385,300)(350,295)(325,340)(285,390)(340,440)(345,485)}
\blob{pu}{(293,380)(350,368)(427,410)(410,428)(320,418)}\spk{li}{2.6}{(320,390)(350,385)(390,405)(340,410)(370,395)}\spk{pk}{1.6}{(310,405)(400,425)}
\lnn[7]{bn}{(440,395)(410,370)(420,345)(460,345)(480,370)(465,400)}
\blob{li}{(443,450)(520,373)(620,348)(647,350)(600,390)(638,420)(628,468)(550,468)(452,473)}
\lnn[5]{bl}{(530,375)(600,350)(650,350)}\spk{white}{1.5}{(550,395)(570,385)}\spk{pk}{2}{(600,430)(620,445)(580,460)(630,400)(650,410)}
\lnn[6]{pk}{(235,510)(250,460)(290,455)(300,510)(325,545)}\spk{pu}{1.8}{(245,470)(295,490)}
\lnn[4]{bn}{(410,460)(450,520)(540,570)(620,560)}
\blob{bn}{(483,520)(530,493)(607,502)(598,538)(540,538)}\spk{white}{1.6}{(550,510)(580,510)}
\lnn[3.2]{pu}{(380,445)(385,495)}
\lnn[4.5]{bn}{(305,600)(370,560)(420,520)(410,560)(340,580)}\lnn[5]{bn}{(335,515)(348,520)}
\lnn[3]{pu}{(222,575)(260,540)}
\lnn[7]{li}{(290,565)(250,600)(190,700)(230,750)(280,780)}
\blob{li}{(213,690)(250,702)(300,742)(368,782)(422,898)(360,878)(290,808)(222,750)}
\lnn[7]{pu}{(360,620)(310,630)(280,660)(305,705)}
\lnn[4]{pk}{(380,590)(405,640)}\lnn[5]{lg}{(430,590)(445,560)}\lnn[3]{pu}{(460,615)(480,570)}
\lnn[6]{lg}{(410,690)(360,700)(345,680)(380,650)(410,680)(480,640)(550,610)(520,590)}
\lnn[3.5]{bn}{(125,690)(150,640)(205,595)}\lnn[3.5]{bn}{(120,715)(130,770)(200,830)(240,840)}
\lnn[4]{bn}{(235,860)(300,915)(400,945)(460,930)(510,870)(470,770)(440,690)(430,730)}\lnn[3.5]{bn}{(405,725)(430,735)}
\lnn[3]{pu}{(370,730)(430,800)(465,880)}
\lnn[4]{pu}{(550,845)(620,875)(710,950)(720,980)(680,998)(580,995)(530,960)(510,935)}
\blob{pk}{(548,882)(570,902)(632,953)(570,923)}
\lnn[3]{pu}{(700,895)(750,910)(815,885)}\spk{pk}{2}{(745,908)}
\blob{bl}{(788,968)(820,932)(900,892)(990,842)(1050,792)(1052,752)(1098,747)(1088,790)(1020,848)(950,908)(850,948)}\spk{white}{1.5}{(1010,820)(950,880)}\spk{pu}{1.6}{(1060,825)(1000,815)}
\lnn[4]{pk}{(1160,650)(1190,605)(1235,615)(1230,660)(1180,720)(1165,790)(1145,820)}\lnn[3]{pu}{(1185,700)(1165,790)}\spk{pu}{2}{(1205,625)(1165,645)}
\blob{li}{(680,480)(700,400)(780,340)(800,370)(860,365)(950,360)(1030,370)(1100,430)(1140,530)(1070,570)(1000,550)(880,560)(760,560)(700,530)}
\mix{(790,365)(960,365)(1040,395)(720,395)(700,430)(1090,430)(1115,465)(685,465)(690,500)(1130,500)(1135,535)(710,535)(760,558)(1060,560)}{(700,420)(700,520)(740,550)(740,385)(780,350)(780,560)(820,555)(820,375)(860,370)(860,560)(900,555)(900,365)(940,360)(940,550)(980,550)(980,365)(1020,370)(1020,555)(1060,565)(1060,395)(1100,435)(1100,540)}
\blob{li}{(470,720)(520,650)(590,590)(680,550)(760,570)(880,580)(1000,600)(1110,610)(1110,660)(1040,720)(1000,770)(920,790)(920,830)(820,850)(700,850)(590,820)(500,780)}
\mix{(590,595)(680,560)(760,580)(1000,610)(1110,620)(1110,650)(540,640)(505,675)(1070,680)(1035,710)(475,710)(490,745)(1000,745)(960,780)(510,780)(570,815)(920,815)(830,845)(690,848)}{(490,700)(490,770)(530,790)(530,650)(570,610)(570,810)(610,825)(610,580)(650,560)(650,840)(690,850)(690,555)(730,560)(730,850)(770,850)(770,570)(810,575)(810,850)(850,840)(850,580)(890,585)(890,830)(930,790)(930,590)(970,600)(970,780)(1010,760)(1010,605)(1050,610)(1050,715)(1090,670)(1090,615)}
\end{axis}
\legendax{969}{788}{315}{430}{510}{3}{318}
\capt{742}{1150}{(f)}
\end{tikzpicture}
\end{document}
